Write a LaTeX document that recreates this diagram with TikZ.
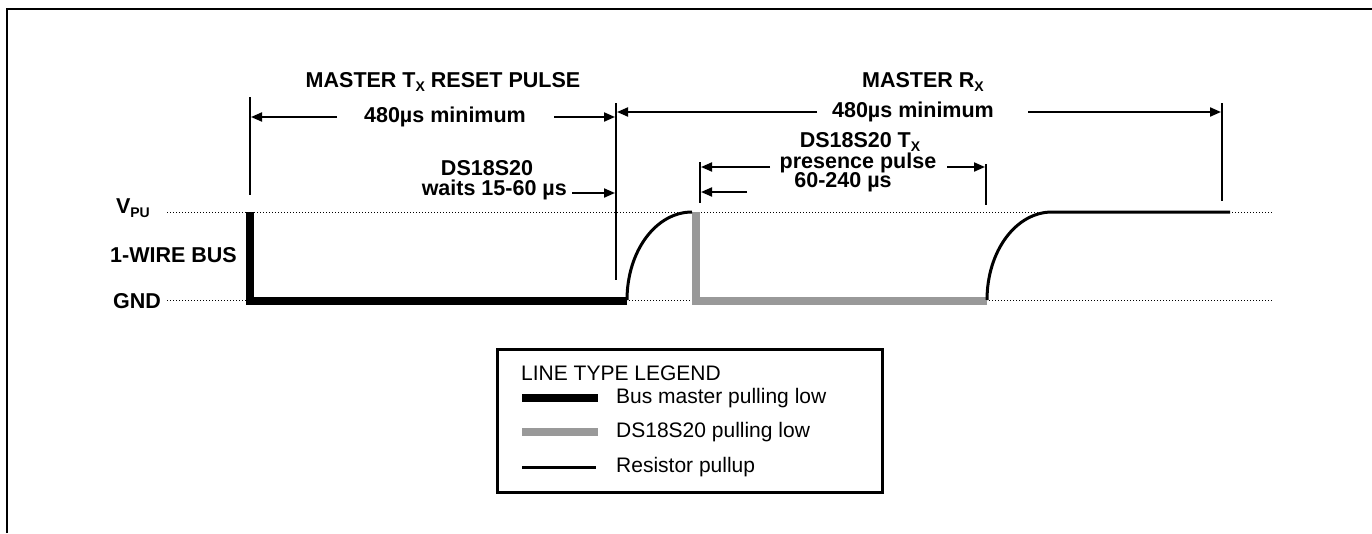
\documentclass[tikz,border=0pt]{standalone}
\usepackage{fontspec}
\setmainfont{Liberation Sans}
\usetikzlibrary{arrows.meta}
\definecolor{slavegrey}{RGB}{153,153,153}
\newcommand\bigbf{\fontsize{21.5}{24}\selectfont\bfseries}
\newcommand\legfont{\fontsize{21}{24}\selectfont}
\newcommand\lowsub[1]{\raisebox{-0.3ex}{\fontsize{14}{14}\selectfont #1}}
\begin{document}
\begin{tikzpicture}[x=1pt,y=-1pt,
  lbl/.style={font=\bigbf, inner sep=0pt, align=center},
  leg/.style={font=\legfont, inner sep=0pt, anchor=west},
  dimarrow/.style={line width=2pt, -{Triangle[length=11pt,width=9pt]}},
  tickline/.style={line width=2pt},
  masterline/.style={line width=8.5pt, line join=miter},
  slaveline/.style={line width=8.5pt, draw=slavegrey, line join=miter},
  pullupline/.style={line width=3pt},
  levelline/.style={line width=1pt, dash pattern=on 1pt off 2pt},
  framebox/.style={line width=2.5pt},
  legendbox/.style={draw, line width=3pt}]
\useasboundingbox (0,0) rectangle (1372,533);
% frame
\coordinate (fbl) at (7,533);
\coordinate (ftl) at (7,9);
\coordinate (ftr) at (1372,9);
\draw[framebox] (fbl) -- (ftl) -- (ftr);

% level labels
\node[lbl, anchor=east] (vpu) at (150,208) {V\lowsub{PU}};
\node[lbl, anchor=west] (bus) at (110,255) {1-WIRE BUS};
\node[lbl, anchor=east] (gnd) at (161,301) {GND};
\coordinate (vpuS) at (167,212);
\coordinate (vpuE) at (1273,212);
\coordinate (gndS) at (167,300);
\coordinate (gndE) at (1273,300);
\draw[levelline] (vpuS) -- (vpuE);
\draw[levelline] (gndS) -- (gndE);

% waveform
\coordinate (m0) at (250,212);
\coordinate (m1) at (250,301);
\coordinate (m2) at (627,301);
\coordinate (r1top) at (692,212);
\coordinate (s0) at (696,212);
\coordinate (s1) at (696,301);
\coordinate (s2) at (987,301);
\coordinate (r2top) at (1052,212);
\coordinate (rEnd) at (1230,212);
\draw[masterline] (m0) -- (m1) -- (m2);
\draw[slaveline] (s0) -- (s1) -- (s2);
\draw[pullupline] (627,300) .. controls (627,251) and (656,212) .. (r1top);
\draw[pullupline] (987,300) .. controls (987,251) and (1016,212) .. (r2top) -- (rEnd);

% ticks
\coordinate (t1a) at (250,97);  \coordinate (t1b) at (250,195);
\coordinate (t2a) at (616,103); \coordinate (t2b) at (616,280);
\coordinate (t3a) at (700,162); \coordinate (t3b) at (700,203);
\coordinate (t4a) at (986,164); \coordinate (t4b) at (986,205);
\coordinate (t5a) at (1222,103);\coordinate (t5b) at (1222,201);
\foreach \t in {1,...,5} \draw[tickline] (t\t a) -- (t\t b);

% labels
\node[lbl] (mtx) at (443,82) {MASTER T\lowsub{X} RESET PULSE};
\node[lbl] (min1) at (445,117) {480µs minimum};
\node[lbl] (mrx) at (923,82) {MASTER R\lowsub{X}};
\node[lbl] (min2) at (913,112) {480µs minimum};
\node[lbl] (ds1) at (487,168) {DS18S20};
\node[lbl, anchor=east] (wait) at (567,190) {waits 15-60 µs};
\node[lbl] (dstx) at (860,142) {DS18S20 T\lowsub{X}};
\node[lbl] (pres) at (858,163) {presence pulse};
\node[lbl] (pdur) at (843,182) {60-240 µs};

% dimension arrows
\coordinate (a1s) at (337,117); \coordinate (a1e) at (251,117);
\coordinate (a2s) at (554,117); \coordinate (a2e) at (615,117);
\coordinate (a3s) at (817,112); \coordinate (a3e) at (617,112);
\coordinate (a4s) at (1028,112);\coordinate (a4e) at (1221,112);
\coordinate (a5s) at (572,193); \coordinate (a5e) at (615,193);
\coordinate (a6s) at (770,167); \coordinate (a6e) at (701,167);
\coordinate (a7s) at (947,167); \coordinate (a7e) at (985,167);
\coordinate (a8s) at (747,192); \coordinate (a8e) at (701,192);
\foreach \a in {1,...,8} \draw[dimarrow] (a\a s) -- (a\a e);

% legend
\node[legendbox, minimum width=385pt, minimum height=143pt, inner sep=0pt] (legend) at (689.5,420.5) {};
\node[leg] (legT) at (521,373) {LINE TYPE LEGEND};
\coordinate (l1a) at (522,398); \coordinate (l1b) at (598,398);
\coordinate (l2a) at (522,432); \coordinate (l2b) at (598,432);
\coordinate (l3a) at (522,467); \coordinate (l3b) at (596,467);
\draw[masterline] (l1a) -- (l1b);
\draw[slaveline] (l2a) -- (l2b);
\draw[pullupline] (l3a) -- (l3b);
\node[leg] (leg1) at (616,398) {Bus master pulling low};
\node[leg] (leg2) at (616,432) {DS18S20 pulling low};
\node[leg] (leg3) at (616,467) {Resistor pullup};
\end{tikzpicture}
\end{document}
